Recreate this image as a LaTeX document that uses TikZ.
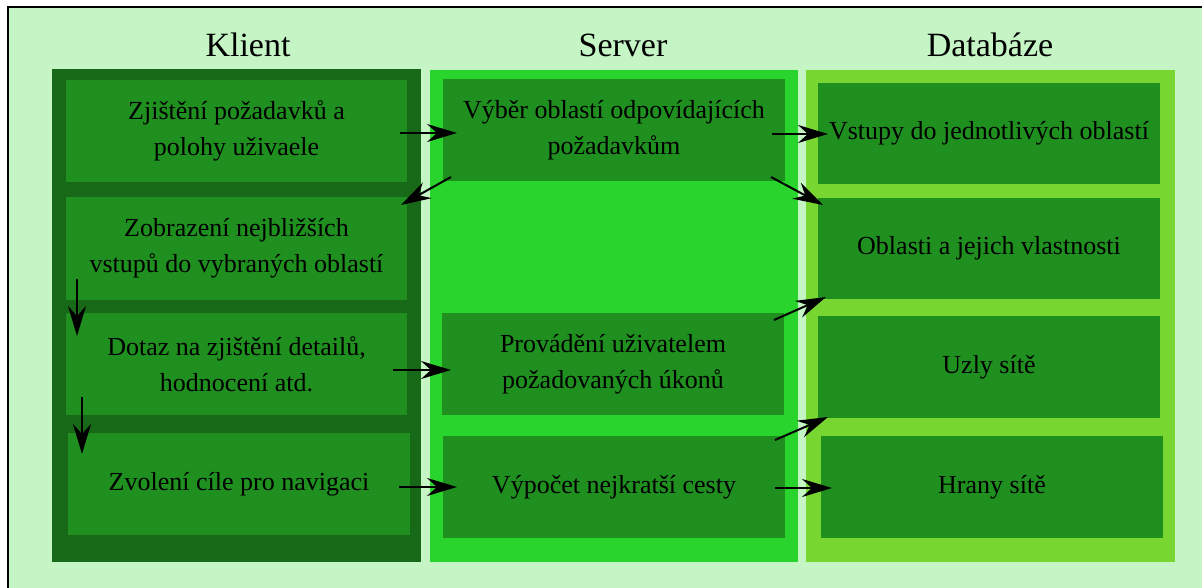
\documentclass[tikz,border=0pt]{standalone}
\usepackage{fontspec}
\setmainfont{Liberation Serif}
\usetikzlibrary{arrows.meta,calc}
\definecolor{bgc}{RGB}{197,245,197}
\definecolor{kcolc}{RGB}{23,105,23}
\definecolor{scolc}{RGB}{41,213,45}
\definecolor{dcolc}{RGB}{120,214,48}
\definecolor{boxc}{RGB}{31,143,31}
\tikzset{
  colbox/.style={draw=none, inner sep=0pt, outer sep=0pt},
  stepbox/.style={fill=boxc, draw=none, inner sep=0pt, outer sep=0pt, minimum width=342pt, minimum height=102pt, align=center, font=\fontsize{26}{36}\selectfont},
  title/.style={font=\fontsize{34}{40}\selectfont, anchor=base, inner sep=0pt},
  arr/.style={draw=black, line width=2pt, -{Stealth[length=30pt,width=18pt,inset=10pt]}}
}
\begin{document}
\begin{tikzpicture}[x=1pt,y=-1pt]
\useasboundingbox (0,0) rectangle (1202,588);
\fill[white] (0,0) rectangle (1202,588);
\fill[bgc] (8,7) rectangle (1202,588);
\draw[line width=1.5pt] (8,588) -- (8,7) -- (1202,7);
% columns
\node[colbox, fill=kcolc, minimum width=369pt, minimum height=493pt] (kcol) at (236.5,315.5) {};
\node[colbox, fill=scolc, minimum width=368pt, minimum height=492pt] (scol) at (614,316) {};
\node[colbox, fill=dcolc, minimum width=369pt, minimum height=492pt] (dcol) at (990.5,316) {};
% titles
\node[title] (tk) at (248,57) {Klient};
\node[title] (ts) at (623,57) {Server};
\node[title] (td) at (990,57) {Databáze};
% client boxes
\node[stepbox, minimum width=341pt] (K1) at (236.5,131) {Zjištění požadavků a\\polohy uživaele};
\node[stepbox, minimum width=341pt, minimum height=103pt] (K2) at (236.5,248.5) {Zobrazení nejbližších\\vstupů do vybraných oblastí};
\node[stepbox, minimum width=341pt] (K3) at (236.5,364) {Dotaz na zjištění detailů,\\hodnocení atd.};
\node[stepbox] (K4) at (239,484) {Zvolení cíle pro navigaci};
% server boxes
\node[stepbox] (S1) at (614,130) {Výběr oblastí odpovídajících\\požadavkům};
\node[stepbox] (S2) at (613,364) {Provádění uživatelem\\požadovaných úkonů};
\node[stepbox] (S3) at (614,487) {Výpočet nejkratší cesty};
% database boxes
\node[stepbox, minimum height=101pt] (D1) at (989,133.5) {Vstupy do jednotlivých oblastí};
\node[stepbox, minimum height=101pt] (D2) at (989,248.5) {Oblasti a jejich vlastnosti};
\node[stepbox] (D3) at (989,367) {Uzly sítě};
\node[stepbox] (D4) at (992,487) {Hrany sítě};
% arrows
\draw[arr] ($(K1.east)+(-7,2)$) -- ($(S1.west)+(14,3)$);
\draw[arr] ($(S1.east)+(-13,4)$) -- ($(D1.west)+(10,0.5)$);
\draw[arr] ($(S1.south west)+(8,-4)$) -- ($(K2.north east)+(-6,8)$);
\draw[arr] ($(S1.south east)+(-14,-4)$) -- ($(D2.north west)+(5,7)$);
\draw[arr] ($(S2.north east)+(-10,7)$) -- ($(D2.south west)+(8,-2)$);
\draw[arr] ($(S3.north east)+(-10,4)$) -- ($(D3.south west)+(10,-1)$);
\draw[arr] ($(S3.east)+(-10,1)$) -- ($(D4.west)+(11,1)$);
\draw[arr] ($(K4.east)+(-11,3)$) -- ($(S3.west)+(14,0)$);
\draw[arr] ($(K3.east)+(-14,6)$) -- ($(S2.west)+(9,6)$);
\draw[arr] ($(K2.south west)+(11,-21)$) -- ($(K3.north west)+(11,23)$);
\draw[arr] ($(K3.south west)+(16,-18)$) -- ($(K4.north west)+(14,21)$);
\end{tikzpicture}
\end{document}
